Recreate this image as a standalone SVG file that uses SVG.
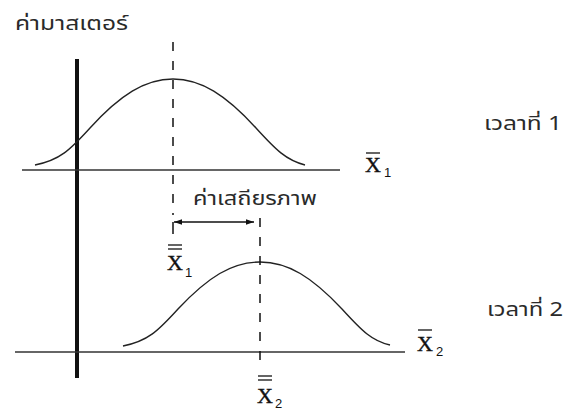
<svg xmlns="http://www.w3.org/2000/svg" width="567" height="410" viewBox="0 0 567 410">
<defs>
<style>
.th{font-family:"Noto Sans Thai","Noto Sans","DejaVu Sans",sans-serif;font-size:19px;fill:#2a2a2a}
.x{font-family:"Liberation Serif",serif;font-size:22px;fill:#111;stroke:#111;stroke-width:0.4}
.sub{font-family:"Liberation Sans",sans-serif;font-size:13px;fill:#111}
.base{stroke:#333;stroke-width:1.5;fill:none}
.curve{stroke:#222;stroke-width:1.4;fill:none}
.dash{stroke:#111;stroke-width:1.5;stroke-dasharray:9,10;fill:none}
.bar{stroke:#111;stroke-width:1.3}
</style>
<marker id="ah" viewBox="0 0 10 10" refX="10" refY="5" markerWidth="9" markerHeight="8" orient="auto-start-reverse" markerUnits="userSpaceOnUse">
<path d="M0,1.5 L10,5 L0,8.5 Z" fill="#111"/>
</marker>
</defs>
<rect width="567" height="410" fill="#fff"/>
<g id="axis">
<line x1="77" y1="59" x2="77" y2="378" stroke="#111" stroke-width="4"/>
<text class="th" x="15" y="30" textLength="113" lengthAdjust="spacingAndGlyphs">ค่ามาสเตอร์</text>
</g>
<g id="time1">
<line class="base" x1="22" y1="170" x2="340" y2="170"/>
<path class="curve" d="M35,165 C60,160 70,150 90,128 C120,95 145,79 173,79 C201,79 226,95 256,128 C276,150 286,160 305,165"/>
<text class="th" x="484" y="130" textLength="78" lengthAdjust="spacingAndGlyphs">เวลาที่ 1</text>
<text class="x" x="365" y="172">X</text>
<line class="bar" x1="366" y1="153" x2="380" y2="153"/>
<text class="sub" x="384" y="177">1</text>
</g>
<g id="time2">
<line class="base" x1="15" y1="352" x2="405" y2="352"/>
<path class="curve" d="M123,346 C148,341 158,331 178,309 C208,277 232,262 260,262 C288,262 312,277 342,309 C362,331 372,341 390,345"/>
<text class="th" x="487" y="316" textLength="76" lengthAdjust="spacingAndGlyphs">เวลาที่ 2</text>
<text class="x" x="417" y="351">X</text>
<line class="bar" x1="418" y1="330" x2="432" y2="330"/>
<text class="sub" x="436" y="356">2</text>
</g>
<g id="stability">
<text class="th" x="193" y="205" textLength="124" lengthAdjust="spacingAndGlyphs">ค่าเสถียรภาพ</text>
<text class="x" x="167" y="270">X</text>
<line class="bar" x1="168" y1="245" x2="182" y2="245"/>
<line class="bar" x1="168" y1="249" x2="182" y2="249"/>
<text class="sub" x="185" y="277">1</text>
<text class="x" x="257" y="403">X</text>
<line class="bar" x1="258" y1="376" x2="272" y2="376"/>
<line class="bar" x1="258" y1="380" x2="272" y2="380"/>
<text class="sub" x="275" y="408">2</text>
</g>
<g id="connectors">
<line class="dash" x1="173" y1="42" x2="173" y2="215"/>
<line x1="173" y1="222" x2="173" y2="234" stroke="#111" stroke-width="1.5"/>
<line x1="174" y1="222" x2="254" y2="222" stroke="#111" stroke-width="1.5" marker-start="url(#ah)" marker-end="url(#ah)"/>
<line class="dash" x1="260" y1="218" x2="260" y2="368"/>
</g>
</svg>
